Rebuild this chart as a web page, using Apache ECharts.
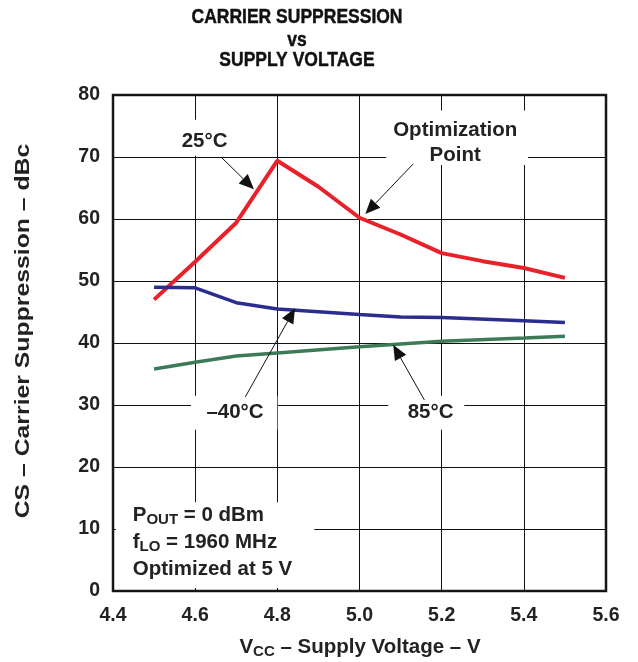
<!DOCTYPE html>
<html>
<head>
<meta charset="utf-8">
<script src="https://cdn.jsdelivr.net/npm/echarts@6/dist/echarts.min.js"></script>
<style>html,body{margin:0;padding:0;background:#fff}#c{width:638px;height:662px}</style>
</head>
<body>
<div id="c"></div>
<script>
// ---- data ----
const xTicks = [4.4, 4.6, 4.8, 5.0, 5.2, 5.4, 5.6];
const yTicks = [0, 10, 20, 30, 40, 50, 60, 70, 80];
const v25 = [4.5, 4.6, 4.7, 4.8, 4.9, 5.0, 5.1, 5.2, 5.3, 5.4, 5.5];
const cs25 = [47.0, 53.1, 59.4, 69.4, 65.2, 60.2, 57.5, 54.5, 53.2, 52.1, 50.5];
const vM40 = [4.5, 4.6, 4.7, 4.8, 5.0, 5.1, 5.2, 5.4, 5.5];
const csM40 = [49.0, 48.9, 46.5, 45.5, 44.6, 44.2, 44.1, 43.6, 43.3];
const v85 = [4.5, 4.6, 4.7, 4.8, 5.0, 5.2, 5.4, 5.5];
const cs85 = [35.8, 36.9, 37.9, 38.4, 39.4, 40.3, 40.8, 41.1];

const FONT = "'Liberation Sans', Arial, Helvetica, sans-serif";
const chart = echarts.init(document.getElementById('c'), null, {renderer: 'canvas'});

function pairs(xs, ys) { return xs.map((x, i) => [x, ys[i]]); }

chart.setOption({
  animation: false,
  backgroundColor: '#fff',
  grid: {left: 113, right: 32, top: 95, bottom: 71, show: true, borderColor: '#1a1a1a', borderWidth: 2.5, backgroundColor: 'transparent'},
  xAxis: {
    type: 'value', min: xTicks[0], max: xTicks[xTicks.length - 1], interval: 0.2,
    axisLine: {show: false}, axisTick: {show: false},
    splitLine: {show: true, lineStyle: {color: '#111', width: 1}},
    axisLabel: {margin: 15, color: '#222', fontFamily: FONT, fontWeight: 'bold', fontSize: 19.5,
      formatter: v => v.toFixed(1)}
  },
  yAxis: {
    type: 'value', min: yTicks[0], max: yTicks[yTicks.length - 1], interval: 10,
    axisLine: {show: false}, axisTick: {show: false},
    splitLine: {show: true, lineStyle: {color: '#111', width: 1}},
    axisLabel: {margin: 13, color: '#222', fontFamily: FONT, fontWeight: 'bold', fontSize: 19.5}
  },
  series: [
    {type: 'line', data: pairs(v25, cs25), symbol: 'none', lineStyle: {color: '#e8212a', width: 4}, z: 5},
    {type: 'line', data: pairs(vM40, csM40), symbol: 'none', lineStyle: {color: '#2b2d8e', width: 3.5}, z: 5},
    {type: 'line', data: pairs(v85, cs85), symbol: 'none', lineStyle: {color: '#3d7a58', width: 3.5}, z: 5}
  ]
});

// annotations defined in data coordinates
const P = p => chart.convertToPixel({gridIndex: 0}, p);
const masks = [
  [[4.55, 76.0], [4.70, 70.2]],
  [[5.065, 77.5], [5.41, 68.7]],
  [[4.59, 31.5], [4.80, 26.0]],
  [[5.07, 31.5], [5.255, 26.0]],
  [[4.407, 14.3], [4.89, 0.5]]
];
const arrows = [
  [[4.663, 70.0], [4.743, 64.8]],
  [[5.131, 68.9], [5.014, 60.8]],
  [[4.722, 31.3], [4.843, 45.6]],
  [[5.158, 30.8], [5.082, 39.7]]
];
const labels = [
  {t: '25°C', p: [4.623, 72.6]},
  {t: 'Optimization', p: [5.233, 74.3]},
  {t: 'Point', p: [5.233, 70.2]},
  {t: '–40°C', p: [4.697, 28.8]},
  {t: '85°C', p: [5.173, 28.8]}
];

const g = [];
masks.forEach(m => {
  const a = P(m[0]), b = P(m[1]);
  g.push({type: 'rect', shape: {x: a[0], y: a[1], width: b[0] - a[0], height: b[1] - a[1]},
    style: {fill: '#fff'}, z: 3, silent: true});
});
arrows.forEach(ar => {
  const t = P(ar[0]), h = P(ar[1]);
  const dx = h[0] - t[0], dy = h[1] - t[1], L = Math.hypot(dx, dy);
  const ux = dx / L, uy = dy / L, hl = 15, hw = 6.5;
  const bx = h[0] - ux * hl, by = h[1] - uy * hl;
  g.push({type: 'line', shape: {x1: t[0], y1: t[1], x2: bx, y2: by}, style: {stroke: '#111', lineWidth: 1}, z: 10});
  g.push({type: 'polygon', shape: {points: [[h[0], h[1]], [bx - uy * hw, by + ux * hw], [bx + uy * hw, by - ux * hw]]},
    style: {fill: '#111'}, z: 10});
});
labels.forEach(l => {
  const p = P(l.p);
  g.push({type: 'text', x: p[0], y: p[1], z: 11,
    style: {text: l.t, fill: '#222', font: 'bold 20.5px ' + FONT, align: 'center', verticalAlign: 'middle'}});
});
// condition box text
const bp = P([4.448, 14.3]);
g.push({type: 'text', x: bp[0], y: bp[1], z: 11, style: {
  text: '{m|P}{s|OUT}{m| = 0 dBm}\n{m|f}{s|LO}{m| = 1960 MHz}\n{m|Optimized at 5 V}',
  fill: '#222', align: 'left', verticalAlign: 'top',
  rich: {
    m: {fontFamily: FONT, fontWeight: 'bold', fontSize: 20.5, lineHeight: 27, fill: '#222'},
    s: {fontFamily: FONT, fontWeight: 'bold', fontSize: 15, lineHeight: 27, padding: [9, 0, 0, 0], fill: '#222'}
  }
}});
// titles
[['CARRIER SUPPRESSION', 17], ['vs', 40], ['SUPPLY VOLTAGE', 60]].forEach(t => {
  g.push({type: 'text', x: 297, y: t[1], scaleY: 1.17, z: 11,
    style: {text: t[0], fill: '#111', font: 'bold 17.5px ' + FONT, align: 'center', verticalAlign: 'middle',
      stroke: '#111', lineWidth: 0.4}});
});
// y axis name
g.push({type: 'text', x: 23, y: 331, rotation: Math.PI / 2, scaleX: 1.18, z: 11,
  style: {text: 'CS – Carrier Suppression – dBc', fill: '#222', font: 'bold 21px ' + FONT, align: 'center', verticalAlign: 'middle'}});
// x axis name
g.push({type: 'text', x: 360, y: 647, z: 11, style: {
  text: '{m|V}{s|CC}{m| – Supply Voltage – V}', align: 'center', verticalAlign: 'middle',
  rich: {
    m: {fontFamily: FONT, fontWeight: 'bold', fontSize: 20.5, lineHeight: 24, fill: '#222'},
    s: {fontFamily: FONT, fontWeight: 'bold', fontSize: 15, lineHeight: 24, padding: [9, 0, 0, 0], fill: '#222'}
  }
}});
chart.setOption({graphic: {elements: g}});
</script>
</body>
</html>
